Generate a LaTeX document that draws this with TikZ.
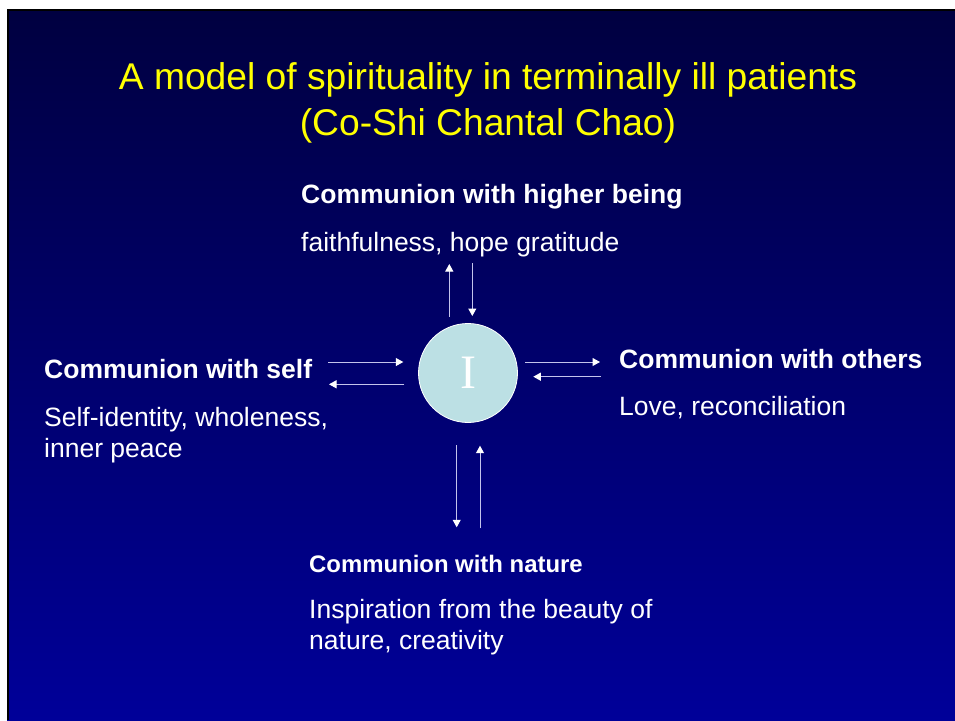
\documentclass[tikz,border=0pt]{standalone}
\usepackage{fontspec}
\setmainfont{Liberation Sans}
\newfontfamily\serifI{Liberation Serif}
\usetikzlibrary{arrows.meta}
\definecolor{bgtop}{RGB}{0,0,64}
\definecolor{bgbot}{RGB}{0,0,153}
\definecolor{titleyellow}{RGB}{255,255,0}
\definecolor{circfill}{RGB}{188,224,228}
\definecolor{arrowline}{RGB}{196,196,236}
\tikzset{
  head/.style={font=\bfseries\fontsize{26.5}{31}\selectfont, text=white, inner sep=0pt, anchor=base west, align=left},
  smallhead/.style={head, font=\bfseries\fontsize{23.9}{28}\selectfont},
  body/.style={font=\fontsize{26.5}{31}\selectfont, text=white, inner sep=0pt, anchor=base west, align=left},
  conn/.style={draw=arrowline, line width=1pt, -{Triangle[width=8pt,length=7.5pt,color=white]}},
}
\begin{document}
\begin{tikzpicture}[x=1pt,y=-1pt]
\useasboundingbox (0,0) rectangle (955,720);
\fill[white] (0,0) rectangle (955,720);
\shade[top color=bgtop, bottom color=bgbot] (7,9) rectangle (955,720);
\draw[black, line width=2pt] (8,720) -- (8,10) -- (955,10);

\node[font=\fontsize{37.2}{46}\selectfont, text=titleyellow, align=center, anchor=base, inner sep=0pt] (title) at (488,135)
  {A model of spirituality in terminally ill patients\\(Co-Shi Chantal Chao)};

\node[circle, fill=circfill, draw=white, line width=0.8pt, minimum size=99pt, inner sep=0pt,
      font=\serifI\fontsize{48}{48}\selectfont, text=white] (I) at (468,373) {I};

\node[head] (hh) at (301,203) {Communion with higher being};
\node[body] (hb) at (301,251) {faithfulness, hope gratitude};

\node[head] (sh) at (44,378) {Communion with self};
\node[body] (sb) at (44,457) {Self-identity, wholeness,\\inner peace};

\node[head] (oh) at (619,368) {Communion with others};
\node[body] (ob) at (619,415) {Love, reconciliation};

\node[smallhead] (nh) at (309,572) {Communion with nature};
\node[body] (nb) at (309,649) {Inspiration from the beauty of\\nature, creativity};

% arrow end points
\coordinate (t1a) at (449.3,316.7); \coordinate (t1b) at (449.3,264);
\coordinate (t2a) at (472.3,263.3); \coordinate (t2b) at (472.3,316);
\coordinate (l1a) at (328.3,362);   \coordinate (l1b) at (403.3,362);
\coordinate (l2a) at (404.3,384.3); \coordinate (l2b) at (329,384.3);
\coordinate (r1a) at (525,362);     \coordinate (r1b) at (600,362);
\coordinate (r2a) at (601,376.7);   \coordinate (r2b) at (533.3,376.7);
\coordinate (b1a) at (456.7,445);   \coordinate (b1b) at (456.7,527.3);
\coordinate (b2a) at (480,528.3);   \coordinate (b2b) at (480,445.7);

\draw[conn] (t1a) -- (t1b);
\draw[conn] (t2a) -- (t2b);
\draw[conn] (l1a) -- (l1b);
\draw[conn] (l2a) -- (l2b);
\draw[conn] (r1a) -- (r1b);
\draw[conn] (r2a) -- (r2b);
\draw[conn] (b1a) -- (b1b);
\draw[conn] (b2a) -- (b2b);
\end{tikzpicture}
\end{document}
